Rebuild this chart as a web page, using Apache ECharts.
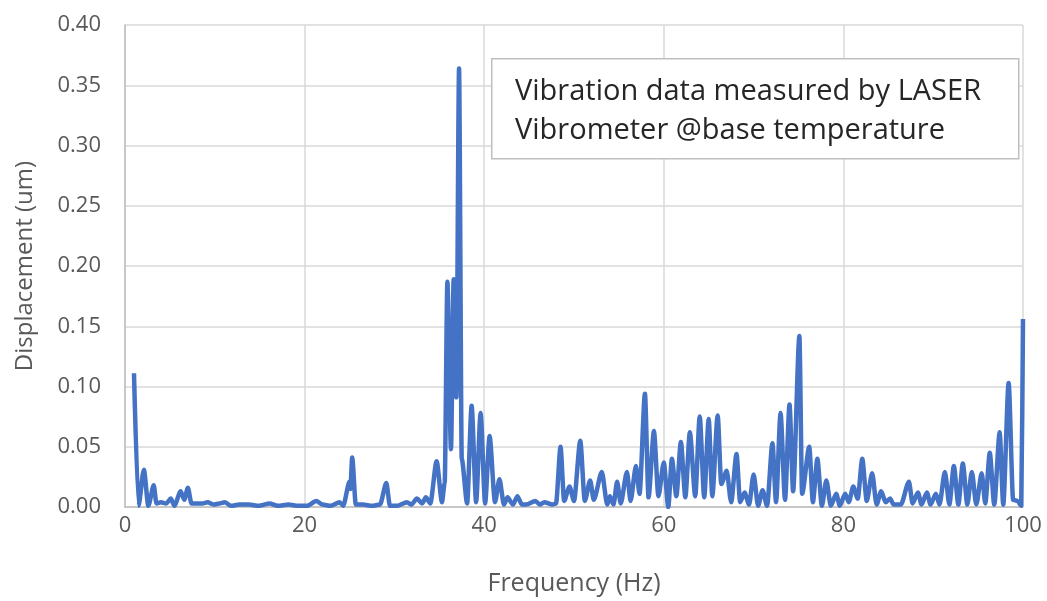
<!DOCTYPE html>
<html>
<head>
<meta charset="utf-8">
<script src="https://cdn.jsdelivr.net/npm/echarts@6/dist/echarts.min.js"></script>
<style>
  html, body { margin: 0; padding: 0; background: #fff; }
  #chart { width: 1047px; height: 601px; }
</style>
</head>
<body>
<div id="chart"></div>
<script>
// frequency (Hz) and displacement (um)
const freq = [1.0, 1.5, 2.1, 2.6, 3.2, 3.5, 4.0, 4.6, 5.1, 5.5, 6.2, 6.6, 7.0, 7.4, 8.0, 8.6, 9.2, 9.9, 10.5, 11.1,
  11.8, 12.7, 13.8, 14.9, 16.1, 17.0, 18.2, 19.3, 20.3, 21.3, 22.0, 22.9, 23.9, 24.3, 25.0, 25.1, 25.3, 25.7, 26.5, 27.5,
  28.4, 29.1, 29.5, 30.3, 31.4, 31.9, 32.5, 33.1, 33.5, 34.0, 34.7, 35.3, 35.6, 35.9, 36.3, 36.6, 36.9, 37.2, 37.5, 38.1,
  38.6, 39.1, 39.6, 40.1, 40.6, 41.2, 41.7, 42.2, 42.6, 43.2, 43.7, 44.2, 44.7, 45.7, 46.2, 46.7, 47.6, 48.0, 48.5, 48.9,
  49.5, 50.0, 50.7, 51.2, 51.8, 52.2, 53.1, 53.7, 54.0, 54.4, 54.8, 55.2, 55.9, 56.3, 56.9, 57.3, 57.9, 58.3, 58.9, 59.4,
  60.0, 60.5, 60.9, 61.4, 61.9, 62.4, 62.9, 63.5, 64.0, 64.5, 65.0, 65.4, 66.0, 66.4, 67.0, 67.5, 68.1, 68.5, 69.0, 69.5,
  70.0, 70.5, 71.0, 71.5, 72.1, 72.5, 73.0, 73.5, 74.0, 74.4, 75.1, 75.4, 76.2, 76.6, 77.1, 77.6, 78.1, 78.6, 79.2, 79.6,
  80.2, 80.6, 81.1, 81.6, 82.1, 82.6, 83.2, 83.7, 84.2, 84.7, 85.2, 85.6, 86.4, 87.3, 87.7, 88.3, 88.7, 89.3, 89.7, 90.3,
  90.7, 91.3, 91.8, 92.3, 92.8, 93.3, 93.8, 94.3, 94.8, 95.4, 95.8, 96.3, 96.8, 97.4, 97.8, 98.4, 98.9, 99.4, 99.8, 100.0];
const disp = [0.111, 0.001, 0.031, 0.001, 0.018, 0.003, 0.004, 0.003, 0.007, 0.001, 0.013, 0.006, 0.016, 0.003, 0.003, 0.003, 0.004, 0.002, 0.003, 0.004,
  0.001, 0.002, 0.002, 0.001, 0.003, 0.001, 0.002, 0.001, 0.001, 0.005, 0.002, 0.001, 0.004, 0.001, 0.021, 0.015, 0.041, 0.002, 0.002, 0.001,
  0.002, 0.020, 0.001, 0.001, 0.004, 0.002, 0.007, 0.003, 0.008, 0.003, 0.038, 0.004, 0.020, 0.187, 0.048, 0.189, 0.091, 0.364, 0.040, 0.003,
  0.084, 0.004, 0.078, 0.003, 0.059, 0.004, 0.023, 0.002, 0.008, 0.002, 0.009, 0.002, 0.002, 0.005, 0.002, 0.004, 0.002, 0.003, 0.050, 0.005,
  0.017, 0.005, 0.055, 0.005, 0.022, 0.006, 0.029, 0.002, 0.009, 0.002, 0.021, 0.003, 0.029, 0.005, 0.034, 0.011, 0.094, 0.008, 0.063, 0.009,
  0.037, 0.000, 0.040, 0.009, 0.054, 0.008, 0.062, 0.009, 0.075, 0.008, 0.073, 0.009, 0.076, 0.019, 0.030, 0.004, 0.044, 0.004, 0.012, 0.002,
  0.027, 0.001, 0.014, 0.001, 0.053, 0.004, 0.078, 0.006, 0.085, 0.013, 0.142, 0.011, 0.050, 0.004, 0.040, 0.001, 0.022, 0.001, 0.011, 0.001,
  0.011, 0.004, 0.017, 0.007, 0.040, 0.005, 0.028, 0.002, 0.013, 0.004, 0.007, 0.002, 0.002, 0.021, 0.003, 0.012, 0.002, 0.012, 0.002, 0.011,
  0.002, 0.029, 0.002, 0.034, 0.002, 0.036, 0.002, 0.029, 0.002, 0.028, 0.003, 0.045, 0.002, 0.062, 0.002, 0.103, 0.006, 0.005, 0.001, 0.156];

const xTicks = [0, 20, 40, 60, 80, 100];
const yTicks = [0, 0.05, 0.10, 0.15, 0.20, 0.25, 0.30, 0.35, 0.40];
const noteLines = ['Vibration data measured by LASER', 'Vibrometer @base temperature'];

const FONT = '"Open Sans", "Noto Sans", sans-serif';
const chart = echarts.init(document.getElementById('chart'));

chart.setOption({
  animation: false,
  grid: { left: 125, right: 24, top: 25, bottom: 94, outerBoundsMode: 'none' },
  xAxis: {
    type: 'value',
    min: xTicks[0],
    max: xTicks[xTicks.length - 1],
    interval: 20,
    name: 'Frequency (Hz)',
    nameLocation: 'middle',
    nameGap: 64,
    nameTextStyle: { color: '#595959', fontSize: 25, fontFamily: FONT },
    axisLine: { show: true, lineStyle: { color: '#bfbfbf', width: 1.5 } },
    axisTick: { show: false },
    axisLabel: { color: '#595959', fontSize: 22, fontFamily: FONT, margin: 8 },
    splitLine: { show: true, lineStyle: { color: '#d9d9d9', width: 1.5 } }
  },
  yAxis: {
    type: 'value',
    min: yTicks[0],
    max: yTicks[yTicks.length - 1],
    interval: 0.05,
    name: 'Displacement (um)',
    nameLocation: 'middle',
    nameGap: 88,
    nameTextStyle: { color: '#595959', fontSize: 24, fontFamily: FONT },
    axisLine: { show: true, lineStyle: { color: '#bfbfbf', width: 1.5 } },
    axisTick: { show: false },
    axisLabel: {
      color: '#595959', fontSize: 22, fontFamily: FONT, margin: 24,
      formatter: v => v.toFixed(2)
    },
    splitLine: { show: true, lineStyle: { color: '#d9d9d9', width: 1.5 } }
  },
  series: [{
    type: 'line',
    data: freq.map((f, i) => [f, disp[i]]),
    showSymbol: false,
    smooth: 0.25,
    smoothMonotone: 'x',
    lineStyle: { color: '#4472c4', width: 4.5, join: 'round' },
    itemStyle: { color: '#4472c4' }
  }],
  // text box in the upper right, drawn above the grid lines
  graphic: [
    {
      type: 'rect',
      left: 491, top: 58, z: 100,
      shape: { width: 527, height: 100 },
      style: { fill: '#ffffff', stroke: '#bfbfbf', lineWidth: 1.5 }
    },
    {
      type: 'text',
      left: 515, top: 77, z: 101,
      style: { text: noteLines[0], fill: '#262626', font: '29px ' + FONT }
    },
    {
      type: 'text',
      left: 515, top: 116, z: 101,
      style: { text: noteLines[1], fill: '#262626', font: '29px ' + FONT }
    }
  ]
});
</script>
</body>
</html>
